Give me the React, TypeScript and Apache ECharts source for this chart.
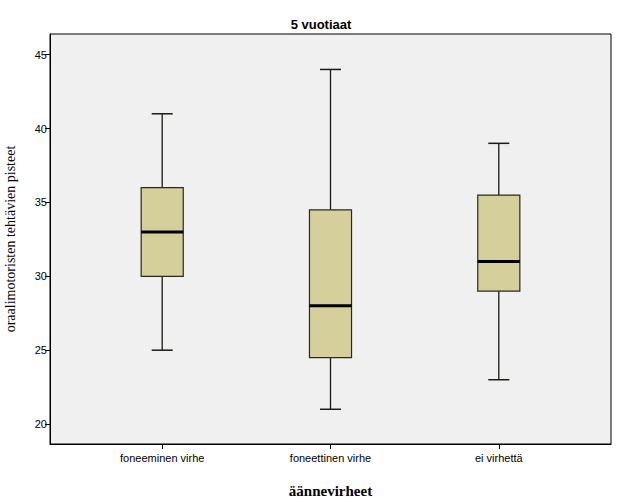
import React, { useEffect, useRef } from "react";
import * as echarts from "echarts";

const categories = ["foneeminen virhe", "foneettinen virhe", "ei virhettä"];
const whiskerLow = [25, 21, 23];
const quartile1 = [30, 24.5, 29];
const medians = [33, 28, 31];
const quartile3 = [36, 34.5, 35.5];
const whiskerHigh = [41, 44, 39];
const yTicks = [20, 25, 30, 35, 40, 45];

export default function App() {
  const ref = useRef<HTMLDivElement>(null);
  useEffect(() => {
    if (!ref.current) return;
    const chart = echarts.init(ref.current, null, { renderer: "svg" });
    const data = categories.map((_, i) => [
      i,
      whiskerLow[i],
      quartile1[i],
      medians[i],
      quartile3[i],
      whiskerHigh[i],
    ]);
    chart.setOption({
      animation: false,
      backgroundColor: "#ffffff",
      title: {
        text: "5 vuotiaat",
        left: 316,
        top: 13,
        textAlign: "center",
        textStyle: {
          fontFamily: "Liberation Sans",
          fontWeight: "bold",
          fontSize: 13,
          color: "#000",
        },
      },
      grid: {
        left: 50,
        top: 34,
        width: 561,
        height: 410,
        containLabel: false,
        outerBoundsMode: "none",
        show: true,
        backgroundColor: "#f0f0f0",
        borderColor: "#000",
        borderWidth: 1,
      },
      xAxis: {
        type: "value",
        min: -0.6667,
        max: 2.6667,
        name: "äännevirheet",
        nameLocation: "middle",
        nameGap: 39,
        nameTextStyle: {
          fontFamily: "Liberation Serif",
          fontWeight: "bold",
          fontSize: 15,
          color: "#000",
        },
        splitLine: { show: false },
        axisLine: { show: true, onZero: false, lineStyle: { color: "#000", width: 1 } },
        axisTick: {
          show: true,
          length: 5,
          customValues: [0, 1, 2],
          lineStyle: { color: "#000" },
        },
        axisLabel: {
          customValues: [0, 1, 2],
          formatter: (v: number) => categories[Math.round(v)] ?? "",
          fontFamily: "Liberation Sans",
          fontSize: 11,
          color: "#000",
          margin: 8,
        },
      },
      yAxis: {
        type: "value",
        min: 18.65,
        max: 46.4,
        name: "oraalimotoristen tehtävien pisteet",
        nameLocation: "middle",
        nameGap: 33,
        nameTextStyle: {
          fontFamily: "Liberation Serif",
          fontSize: 14,
          color: "#000",
        },
        splitLine: { show: false },
        axisLine: { show: true, onZero: false, lineStyle: { color: "#000", width: 1 } },
        axisTick: {
          show: true,
          length: 5,
          customValues: yTicks,
          lineStyle: { color: "#000" },
        },
        axisLabel: {
          customValues: yTicks,
          fontFamily: "Liberation Sans",
          fontSize: 11,
          color: "#000",
          margin: 3,
        },
      },
      series: [
        {
          type: "custom",
          data,
          encode: { x: 0, y: [1, 2, 3, 4, 5] },
          renderItem: (params: any, api: any) => {
            const x = api.value(0);
            const pLow = api.coord([x, api.value(1)]);
            const pQ1 = api.coord([x, api.value(2)]);
            const pMed = api.coord([x, api.value(3)]);
            const pQ3 = api.coord([x, api.value(4)]);
            const pHigh = api.coord([x, api.value(5)]);
            const unit = api.coord([x + 1, 0])[0] - pLow[0];
            const bw = unit * 0.25;
            const cw = unit * 0.125;
            const cx = pLow[0];
            const stroke = "#1a1a14";
            return {
              type: "group",
              children: [
                {
                  type: "line",
                  shape: { x1: cx, y1: pHigh[1], x2: cx, y2: pQ3[1] },
                  style: { stroke, lineWidth: 1.3 },
                },
                {
                  type: "line",
                  shape: { x1: cx, y1: pQ1[1], x2: cx, y2: pLow[1] },
                  style: { stroke, lineWidth: 1.3 },
                },
                {
                  type: "line",
                  shape: { x1: cx - cw / 2, y1: pHigh[1], x2: cx + cw / 2, y2: pHigh[1] },
                  style: { stroke, lineWidth: 1.5 },
                },
                {
                  type: "line",
                  shape: { x1: cx - cw / 2, y1: pLow[1], x2: cx + cw / 2, y2: pLow[1] },
                  style: { stroke, lineWidth: 1.5 },
                },
                {
                  type: "rect",
                  shape: { x: cx - bw / 2, y: pQ3[1], width: bw, height: pQ1[1] - pQ3[1] },
                  style: { fill: "#d4cf9b", stroke: "#2a2a1e", lineWidth: 1.2 },
                },
                {
                  type: "line",
                  shape: { x1: cx - bw / 2, y1: pMed[1], x2: cx + bw / 2, y2: pMed[1] },
                  style: { stroke: "#000", lineWidth: 3 },
                },
              ],
            };
          },
        },
      ],
    });
    return () => chart.dispose();
  }, []);
  return (
    <div
      ref={ref}
      style={{ position: "fixed", left: 0, top: 0, width: 617, height: 504 }}
    />
  );
}
